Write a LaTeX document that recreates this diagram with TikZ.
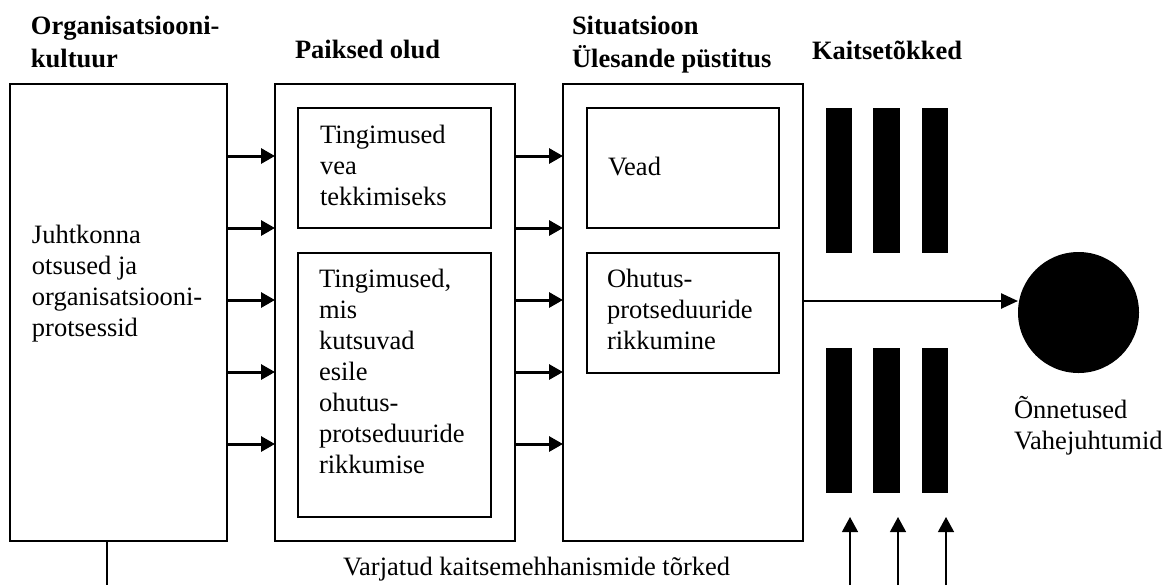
\documentclass[tikz,border=0pt]{standalone}
\usepackage{fontspec}
\setmainfont{Liberation Serif}
\usetikzlibrary{arrows.meta,fit}
\begin{document}
\begin{tikzpicture}[x=0.5pt,y=-0.5pt,
  font=\fontsize{13.25pt}{15.5pt}\selectfont,
  box/.style={draw, line width=0.75pt, inner sep=0pt, outer sep=0pt},
  inbox/.style={draw, line width=0.6pt, inner sep=0pt, outer sep=0pt},
  bar/.style={fill=black, inner sep=0pt, outer sep=0pt},
  txt/.style={anchor=base west, inner sep=0pt, outer sep=0pt, align=left},
  head/.style={txt, font=\fontsize{13.25pt}{16.5pt}\selectfont\bfseries},
  arr/.style={line width=1.5pt, -{Triangle[length=7pt,width=7.5pt]}},
  bigarr/.style={line width=1.25pt, -{Triangle[length=8.5pt,width=7.5pt]}},
  uparr/.style={line width=0.65pt, -{Triangle[length=7.5pt,width=8pt]}},
  thin/.style={line width=0.65pt}]
\useasboundingbox (0,0) rectangle (1168,585);

% headings (anchor = baseline of the last line)
\node[head] (h1) at (31,67) {Organisatsiooni-\\kultuur};
\node[head] (h2) at (295,58) {Paiksed olud};
\node[head] (h3) at (572,67) {Situatsioon\\Ülesande püstitus};
\node[head] (h4) at (812,59) {Kaitsetõkked};

% main boxes
\node[box, fit={(10,84) (227,541)}] (org) {};
\node[box, fit={(275,84) (515,541)}] (paik) {};
\node[box, fit={(563,84) (803,541)}] (situ) {};

% inner boxes
\node[inbox, fit={(298,108) (491,228)}] (p1) {};
\node[inbox, fit={(298,253) (491,517)}] (p2) {};
\node[inbox, fit={(587,108) (779,228)}] (s1) {};
\node[inbox, fit={(587,253) (779,373)}] (s2) {};

% texts (anchor = baseline of the last line)
\node[txt] (torg) at (32,336) {Juhtkonna\\otsused ja\\organisatsiooni-\\protsessid};
\node[txt] (tp1) at (320,205) {Tingimused\\vea\\tekkimiseks};
\node[txt] (tp2) at (319,473) {Tingimused,\\mis\\kutsuvad\\esile\\ohutus-\\protseduuride\\rikkumise};
\node[txt] (ts1) at (608,175) {Vead};
\node[txt] (ts2) at (607,349) {Ohutus-\\protseduuride\\rikkumine};
\node[txt] (tacc) at (1014,449) {Õnnetused\\Vahejuhtumid};
\node[txt] (tvar) at (343,575) {Varjatud kaitsemehhanismide tõrked};

% barriers
\node[bar, fit={(826,108) (852,253)}] (u1) {};
\node[bar, fit={(873,108) (900,253)}] (u2) {};
\node[bar, fit={(922,108) (948,253)}] (u3) {};
\node[bar, fit={(826,348) (852,493)}] (l1) {};
\node[bar, fit={(873,348) (900,493)}] (l2) {};
\node[bar, fit={(922,348) (948,493)}] (l3) {};

% accident circle
\node[circle, fill=black, minimum size=60.5pt, inner sep=0pt, outer sep=0pt] (acc) at (1078.5,312.5) {};

% arrows between boxes
\foreach \yy in {156,228,300,372,444} {
  \draw[arr] (org.east |- 0,\yy) -- (paik.west |- 0,\yy);
  \draw[arr] (paik.east |- 0,\yy) -- (situ.west |- 0,\yy);
}

% arrow to accident
\coordinate (yl) at (0,301);
\draw[bigarr] (situ.east |- yl) -- (acc.west |- yl);

% latent failures
\coordinate (lb) at (107,585);
\draw[thin] (org.south -| lb) -- (lb);
\foreach \xx [count=\i] in {850,898,946} {
  \coordinate (fb\i) at (\xx,585);
  \coordinate (ft\i) at (\xx,517);
  \draw[uparr] (fb\i) -- (ft\i);
}
\end{tikzpicture}
\end{document}
